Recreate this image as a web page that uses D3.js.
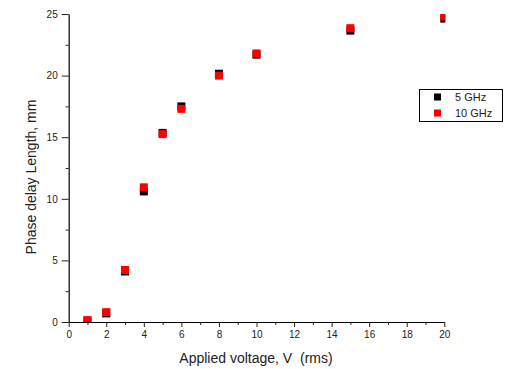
<!DOCTYPE html>
<html>
<head>
<meta charset="utf-8">
<script src="https://cdn.jsdelivr.net/npm/d3@7"></script>
<style>
  html, body { margin: 0; padding: 0; background: #fff; }
  svg { display: block; font-family: "Liberation Sans", Arial, sans-serif; }
</style>
</head>
<body>
<svg id="chart" width="505" height="369"></svg>
<script>
// Applied voltage (V rms)
const voltages = [1, 2, 3, 4, 5, 6, 8, 10, 15, 20];
// Phase delay length (mm) per frequency
const delay5GHz  = [0.1, 0.7, 4.1, 10.6, 15.35, 17.5, 20.15, 21.7, 23.65, 24.62];
const delay10GHz = [0.15, 0.8, 4.22, 10.93, 15.25, 17.3, 20.0, 21.8, 23.85, 24.8];
const seriesNames = ["5 GHz", "10 GHz"];
const seriesColors = ["#000000", "#ff0000"];
const xTicks = [0, 2, 4, 6, 8, 10, 12, 14, 16, 18, 20];
const yTicks = [0, 5, 10, 15, 20, 25];

const svg = d3.select("#chart");
const plotLeft = 68.7, plotRight = 444.3, plotTop = 14, plotBottom = 322;

const x = d3.scaleLinear().domain([0, 20]).range([plotLeft, plotRight]);
const y = d3.scaleLinear().domain([0, 25]).range([plotBottom, plotTop]);

svg.append("defs").append("clipPath").attr("id", "plotClip")
  .append("rect").attr("x", plotLeft).attr("y", plotTop)
  .attr("width", plotRight - plotLeft + 1).attr("height", plotBottom - plotTop);

// minor ticks
const xMinor = d3.range(1, 20, 2);
const yMinor = d3.range(2.5, 25, 5);

svg.append("g").attr("transform", `translate(0,${plotBottom})`)
  .call(d3.axisBottom(x).tickValues(xTicks).tickSize(5).tickSizeOuter(0).tickPadding(4));
svg.append("g").attr("transform", `translate(0,${plotBottom})`)
  .call(d3.axisBottom(x).tickValues(xMinor).tickSize(3).tickFormat("").tickSizeOuter(0))
  .select(".domain").remove();

svg.append("g").attr("transform", `translate(${plotLeft},0)`)
  .call(d3.axisLeft(y).tickValues(yTicks).tickSize(7).tickSizeOuter(0).tickPadding(4));
svg.append("g").attr("transform", `translate(${plotLeft},0)`)
  .call(d3.axisLeft(y).tickValues(yMinor).tickSize(3).tickFormat("").tickSizeOuter(0))
  .select(".domain").remove();

svg.selectAll(".domain").attr("stroke", "#000").attr("stroke-width", 1.2);
svg.selectAll(".tick line").attr("stroke", "#222").attr("stroke-width", 1);
svg.selectAll(".tick text").attr("font-size", 10).attr("fill", "#222")
  .attr("font-family", "\"Liberation Sans\", Arial, sans-serif");

// markers
const plot = svg.append("g").attr("clip-path", "url(#plotClip)");
const sz = 8;
[delay5GHz, delay10GHz].forEach((vals, i) => {
  plot.append("g").selectAll("rect")
    .data(vals.map((v, j) => [voltages[j], v]))
    .join("rect")
    .attr("x", d => x(d[0]) - sz / 2)
    .attr("y", d => y(d[1]) - sz / 2)
    .attr("width", sz).attr("height", sz)
    .attr("fill", seriesColors[i]);
});

// axis titles
svg.append("text")
  .attr("x", 256).attr("y", 363)
  .attr("text-anchor", "middle").attr("font-size", 14).attr("fill", "#222")
  .style("white-space", "pre")
  .text("Applied voltage, V  (rms)");

svg.append("text")
  .attr("transform", `translate(36,177) rotate(-90)`)
  .attr("text-anchor", "middle").attr("font-size", 14).attr("fill", "#222")
  .text("Phase delay Length, mm");

// legend
const lg = svg.append("g");
lg.append("rect").attr("x", 419.5).attr("y", 89.5).attr("width", 83).attr("height", 32)
  .attr("fill", "#fff").attr("stroke", "#000").attr("stroke-width", 1);
seriesNames.forEach((name, i) => {
  const cy = 97 + i * 16;
  lg.append("rect").attr("x", 434).attr("y", cy - 3.5).attr("width", 7).attr("height", 7)
    .attr("fill", seriesColors[i]);
  lg.append("text").attr("x", 455).attr("y", cy + 4)
    .attr("font-size", 11).attr("fill", "#222").text(name);
});
</script>
</body>
</html>
